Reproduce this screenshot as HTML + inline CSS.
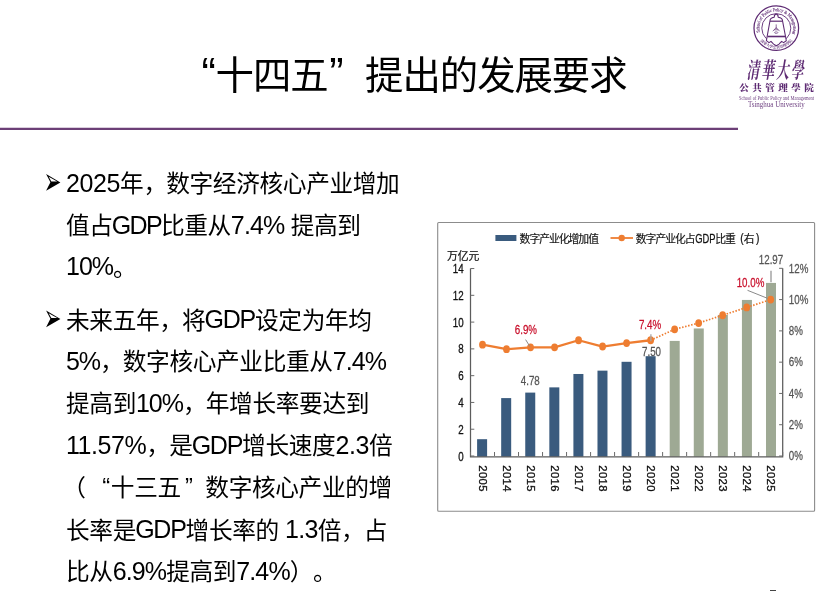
<!DOCTYPE html>
<html lang="zh-CN">
<head>
<meta charset="utf-8">
<title>“十四五”提出的发展要求</title>
<style>
html,body{margin:0;padding:0;background:#fff;}
body{width:832px;height:592px;overflow:hidden;position:relative;font-family:"Liberation Sans","Noto Sans CJK SC",sans-serif;color:#000;}
.title{position:absolute;left:178.3px;top:48.6px;height:54px;line-height:54px;font-size:38.4px;letter-spacing:-1.02px;white-space:nowrap;margin:0;font-weight:400;text-spacing-trim:space-all;}
.q{display:inline-block;width:23.33px;letter-spacing:0;}
.title .q{width:37.3px;font-size:43px;line-height:1px;}
.ln .ql{position:relative;left:-0.7px;top:-0.9px;}
.ln .qr{position:relative;left:4.3px;top:-0.9px;margin-right:1.2px;}
.pl{position:relative;left:-2px;}
.title .ql{position:relative;left:0.3px;top:-1.5px;}
.title .qr{position:relative;left:1.5px;top:-1.5px;}
.ql{text-align:right;}
.qr{text-align:left;}
.ln{text-spacing-trim:space-all;position:absolute;height:40px;line-height:40px;font-size:23.7px;letter-spacing:-0.37px;white-space:nowrap;}
.l{font-size:25.0px;letter-spacing:0;position:relative;top:-0.9px;}
.cm{letter-spacing:-0.9px;}
svg.art{position:absolute;left:0;top:0;}
svg text{font-family:"Liberation Sans","Noto Sans CJK SC",sans-serif;}
.al{font-size:12.2px;fill:#111;stroke:#111;stroke-width:.3px;}
.ar{font-size:12.2px;fill:#555;stroke:#555;stroke-width:.25px;}
.xl{font-size:10.3px;fill:#111;stroke:#111;stroke-width:.3px;letter-spacing:0.35px;}
.dl{font-size:12.2px;stroke-width:.25px;}
.lg{font-size:10.8px;letter-spacing:-1px;fill:#111;stroke:#111;stroke-width:.15px;}
.lgl{font-size:12px;fill:#111;stroke:#111;stroke-width:.25px;}
.unit{font-size:10.8px;fill:#111;stroke:#111;stroke-width:.2px;}
.seal{font-family:"Liberation Serif",serif;font-size:4.6px;fill:#5e2b73;stroke:#5e2b73;stroke-width:.12px;}
.sealc{font-family:"Liberation Serif","Noto Serif CJK SC",serif;font-size:3.7px;font-weight:700;fill:#5e2b73;}
svg text.lg1{font-family:"Liberation Serif","Noto Serif CJK SC",serif;font-size:16px;font-weight:700;letter-spacing:2.4px;fill:#5e2b73;}
svg text.lg2{font-family:"Liberation Serif","Noto Serif CJK SC",serif;font-size:9.6px;font-weight:900;fill:#5e2b73;letter-spacing:3.4px;}
svg text.lg3{font-family:"Liberation Serif",serif;font-size:5.4px;fill:#5e2b73;opacity:.9;}
svg text.lg4{font-family:"Liberation Serif",serif;font-size:8.1px;fill:#5e2b73;opacity:.9;}
.pg{position:absolute;left:770px;top:590px;width:6px;height:1.2px;background:#444;}
</style>
</head>
<body>
<h1 class="title"><span class="q ql">“</span>十四五<span class="q qr">”</span>提出的发展要求</h1>

<div class="ln" style="left:66px;top:163.4px"><span class="l" style="letter-spacing:-0.38px">2025</span>年<span class="cm">，</span>数字经济核心产业增加</div>
<div class="ln" style="left:66px;top:205.4px">值占<span class="l" style="letter-spacing:-1.71px;margin-left:-0.8px">GDP</span>比重从<span class="l" style="letter-spacing:-0.85px">7.4%</span> 提高到</div>
<div class="ln" style="left:66px;top:246.9px"><span class="l" style="letter-spacing:-1.00px">10%</span>。</div>
<div class="ln" style="left:66px;top:299.9px">未来五年<span class="cm">，</span>将<span class="l" style="letter-spacing:-1.26px;margin-left:-0.8px">GDP</span>设定为年均</div>
<div class="ln" style="left:66px;top:341.4px"><span class="l" style="letter-spacing:-1.08px">5%</span><span class="cm">，</span>数字核心产业比重从<span class="l" style="letter-spacing:-0.85px">7.4%</span></div>
<div class="ln" style="left:66px;top:383.4px">提高到<span class="l" style="letter-spacing:-1.00px">10%</span><span class="cm">，</span>年增长率要达到</div>
<div class="ln" style="left:66px;top:425.4px"><span class="l" style="letter-spacing:-0.43px">11.57%</span><span class="cm">，</span>是<span class="l" style="letter-spacing:-1.26px;margin-left:-0.8px">GDP</span>增长速度<span class="l" style="letter-spacing:-0.34px">2.3</span>倍</div>
<div class="ln" style="left:64.2px;top:467.8px"><span class="pl">（</span><span class="q ql">“</span>十三五<span class="q qr">”</span>数字核心产业的增</div>
<div class="ln" style="left:66px;top:509.8px">长率是<span class="l" style="letter-spacing:-1.26px;margin-left:-0.8px">GDP</span>增长率的 <span class="l" style="letter-spacing:-0.69px">1.3</span>倍<span class="cm">，</span>占</div>
<div class="ln" style="left:66px;top:551.4px">比从<span class="l" style="letter-spacing:-0.85px">6.9%</span>提高到<span class="l" style="letter-spacing:-0.85px">7.4%</span>）。</div>

<svg class="art" width="832" height="592" viewBox="0 0 832 592">
<rect x="0" y="127.75" width="738" height="2.25" fill="#6c3f77"/>
<path d="M46.1 174.10 L60.4 182.40 L46.1 190.70 L50.4 182.20 Z" fill="#000"/><path d="M48.7 176.70 L57.2 181.50 L51.3 181.50 Z" fill="#fff"/><path d="M46.1 310.60 L60.4 318.90 L46.1 327.20 L50.4 318.70 Z" fill="#000"/><path d="M48.7 313.20 L57.2 318.00 L51.3 318.00 Z" fill="#fff"/>
<rect x="437.7" y="222.5" width="376.9" height="288.8" rx="1" fill="#fff" stroke="#8c8c8c" stroke-width="1.1"/>
<rect x="477.10" y="439.19" width="10.0" height="17.61" fill="#3a5b7e"/>
<rect x="501.18" y="398.09" width="10.0" height="58.71" fill="#3a5b7e"/>
<rect x="525.25" y="392.60" width="10.0" height="64.20" fill="#3a5b7e"/>
<rect x="549.33" y="387.37" width="10.0" height="69.43" fill="#3a5b7e"/>
<rect x="573.40" y="373.98" width="10.0" height="82.82" fill="#3a5b7e"/>
<rect x="597.48" y="370.64" width="10.0" height="86.16" fill="#3a5b7e"/>
<rect x="621.55" y="361.80" width="10.0" height="95.00" fill="#3a5b7e"/>
<rect x="645.62" y="356.18" width="10.0" height="100.63" fill="#3a5b7e"/>
<rect x="669.70" y="340.91" width="10.0" height="115.89" fill="#9ea994"/>
<rect x="693.77" y="328.46" width="10.0" height="128.34" fill="#9ea994"/>
<rect x="717.85" y="314.93" width="10.0" height="141.87" fill="#9ea994"/>
<rect x="741.93" y="299.94" width="10.0" height="156.86" fill="#9ea994"/>
<rect x="766.00" y="282.93" width="10.0" height="173.87" fill="#9ea994"/>
<path d="M470.5 268.54 V456.95 H782.7 V268.32" fill="none" stroke="#5c5c5c" stroke-width="1.25"/>
<path d="M470.5 456.00 h3.8 M470.5 429.22 h3.8 M470.5 402.44 h3.8 M470.5 375.66 h3.8 M470.5 348.88 h3.8 M470.5 322.10 h3.8 M470.5 295.32 h3.8 M470.5 268.54 h3.8 M782.7 456.00 h-3.6 M782.7 424.72 h-3.6 M782.7 393.44 h-3.6 M782.7 362.16 h-3.6 M782.7 330.88 h-3.6 M782.7 299.60 h-3.6 M782.7 268.32 h-3.6 M470.50 456.0 v-4 M494.52 456.0 v-4 M518.53 456.0 v-4 M542.55 456.0 v-4 M566.56 456.0 v-4 M590.58 456.0 v-4 M614.59 456.0 v-4 M638.61 456.0 v-4 M662.62 456.0 v-4 M686.64 456.0 v-4 M710.65 456.0 v-4 M734.67 456.0 v-4 M758.68 456.0 v-4 M782.70 456.0 v-4 " fill="none" stroke="#6a6a6a" stroke-width="1"/>
<text transform="translate(463.60 460.60) scale(0.8 1)" class="al" text-anchor="end">0</text>
<text transform="translate(463.60 433.82) scale(0.8 1)" class="al" text-anchor="end">2</text>
<text transform="translate(463.60 407.04) scale(0.8 1)" class="al" text-anchor="end">4</text>
<text transform="translate(463.60 380.26) scale(0.8 1)" class="al" text-anchor="end">6</text>
<text transform="translate(463.60 353.48) scale(0.8 1)" class="al" text-anchor="end">8</text>
<text transform="translate(463.60 326.70) scale(0.8 1)" class="al" text-anchor="end">10</text>
<text transform="translate(463.60 299.92) scale(0.8 1)" class="al" text-anchor="end">12</text>
<text transform="translate(463.60 273.14) scale(0.8 1)" class="al" text-anchor="end">14</text>
<text transform="translate(788.80 460.30) scale(0.8 1)" class="ar">0%</text>
<text transform="translate(788.80 429.02) scale(0.8 1)" class="ar">2%</text>
<text transform="translate(788.80 397.74) scale(0.8 1)" class="ar">4%</text>
<text transform="translate(788.80 366.46) scale(0.8 1)" class="ar">6%</text>
<text transform="translate(788.80 335.18) scale(0.8 1)" class="ar">8%</text>
<text transform="translate(788.80 303.90) scale(0.8 1)" class="ar">10%</text>
<text transform="translate(788.80 272.62) scale(0.8 1)" class="ar">12%</text>
<text transform="translate(478.81 465.20) rotate(90) scale(1.1 1)" class="xl">2005</text>
<text transform="translate(502.82 465.20) rotate(90) scale(1.1 1)" class="xl">2014</text>
<text transform="translate(526.84 465.20) rotate(90) scale(1.1 1)" class="xl">2015</text>
<text transform="translate(550.85 465.20) rotate(90) scale(1.1 1)" class="xl">2016</text>
<text transform="translate(574.87 465.20) rotate(90) scale(1.1 1)" class="xl">2017</text>
<text transform="translate(598.88 465.20) rotate(90) scale(1.1 1)" class="xl">2018</text>
<text transform="translate(622.90 465.20) rotate(90) scale(1.1 1)" class="xl">2019</text>
<text transform="translate(646.92 465.20) rotate(90) scale(1.1 1)" class="xl">2020</text>
<text transform="translate(670.93 465.20) rotate(90) scale(1.1 1)" class="xl">2021</text>
<text transform="translate(694.95 465.20) rotate(90) scale(1.1 1)" class="xl">2022</text>
<text transform="translate(718.96 465.20) rotate(90) scale(1.1 1)" class="xl">2023</text>
<text transform="translate(742.98 465.20) rotate(90) scale(1.1 1)" class="xl">2024</text>
<text transform="translate(766.99 465.20) rotate(90) scale(1.1 1)" class="xl">2025</text>
<polyline points="482.51,344.64 506.52,349.18 530.54,347.30 554.55,347.30 578.57,340.26 602.58,346.52 626.60,343.08 650.62,340.26" fill="none" stroke="#ee7d31" stroke-width="2.3" stroke-linejoin="round"/>
<polyline points="650.62,340.26 674.63,329.32 698.65,323.06 722.66,315.24 746.68,307.42 770.69,299.60" fill="none" stroke="#ee7d31" stroke-width="1.7" stroke-dasharray="1.5 1.6"/>
<ellipse cx="482.51" cy="344.64" rx="3.4" ry="3.9" fill="#ee7d31"/>
<ellipse cx="506.52" cy="349.18" rx="3.4" ry="3.9" fill="#ee7d31"/>
<ellipse cx="530.54" cy="347.30" rx="3.4" ry="3.9" fill="#ee7d31"/>
<ellipse cx="554.55" cy="347.30" rx="3.4" ry="3.9" fill="#ee7d31"/>
<ellipse cx="578.57" cy="340.26" rx="3.4" ry="3.9" fill="#ee7d31"/>
<ellipse cx="602.58" cy="346.52" rx="3.4" ry="3.9" fill="#ee7d31"/>
<ellipse cx="626.60" cy="343.08" rx="3.4" ry="3.9" fill="#ee7d31"/>
<ellipse cx="650.62" cy="340.26" rx="3.4" ry="3.9" fill="#ee7d31"/>
<ellipse cx="674.63" cy="329.32" rx="3.4" ry="3.9" fill="#ee7d31"/>
<ellipse cx="698.65" cy="323.06" rx="3.4" ry="3.9" fill="#ee7d31"/>
<ellipse cx="722.66" cy="315.24" rx="3.4" ry="3.9" fill="#ee7d31"/>
<ellipse cx="746.68" cy="307.42" rx="3.4" ry="3.9" fill="#ee7d31"/>
<ellipse cx="770.69" cy="299.60" rx="3.4" ry="3.9" fill="#ee7d31"/>
<path d="M525.6 339.6 L529.9 346.5 M747.5 290.3 L767.7 298.4" fill="none" stroke="#8a8a8a" stroke-width="1"/>
<path d="M650.9 334.2 V341.2" fill="none" stroke="#a8a8a8" stroke-width="1.3"/>
<path d="M771.0 270.8 V282.3" fill="none" stroke="#b4b4b4" stroke-width="1.8"/>
<text transform="translate(525.90 334.20) scale(0.8 1)" class="dl" text-anchor="middle" fill="#c9102c" stroke="#c9102c">6.9%</text>
<text transform="translate(650.00 329.20) scale(0.8 1)" class="dl" text-anchor="middle" fill="#c9102c" stroke="#c9102c">7.4%</text>
<text transform="translate(750.50 286.80) scale(0.8 1)" class="dl" text-anchor="middle" fill="#c9102c" stroke="#c9102c">10.0%</text>
<text transform="translate(771.00 264.00) scale(0.8 1)" class="dl" text-anchor="middle" fill="#555" stroke="#555">12.97</text>
<text transform="translate(651.50 356.20) scale(0.8 1)" class="dl" text-anchor="middle" fill="#555" stroke="#555">7.50</text>
<text transform="translate(530.30 384.80) scale(0.8 1)" class="dl" text-anchor="middle" fill="#555" stroke="#555">4.78</text>
<rect x="495.4" y="235" width="21" height="6" fill="#3a5b7e"/>
<text x="519.6" y="242.7" class="lg">数字产业化增加值</text>
<path d="M610.5 238 H633" stroke="#ee7d31" stroke-width="1.8"/><circle cx="621.7" cy="238" r="3.2" fill="#ee7d31"/>
<text x="635.8" y="242.7" class="lg">数字产业化占</text>
<text transform="translate(695.30 242.60) scale(0.78 1)" class="lgl">GDP</text>
<text x="715.2" y="242.7" class="lg">比重</text>
<text transform="translate(740.20 242.40) scale(0.85 1)" class="lgl">(</text>
<text x="743.8" y="242.7" class="lg">右</text>
<text transform="translate(755.90 242.40) scale(0.85 1)" class="lgl">)</text>
<text x="447" y="260" class="unit">万亿元</text>

<g fill="none" stroke="#5e2b73">
<circle cx="776.3" cy="28.15" r="22.3" stroke-width="1.25"/>
<circle cx="776.3" cy="28.15" r="14.5" stroke-width="0.9"/>
<path d="M774.2 17.2 Q774.2 14.1 776.2 14.1 Q778.2 14.1 778.2 17.2 Q781.6 17.6 782.3 19.6 L786.3 40.7 L783.6 42.6 L781.6 41.4 L779 44.1 L776.3 45.7 L773.6 44.1 L771 41.4 L769 42.6 L766.4 40.7 L770.2 19.6 Q770.9 17.6 774.2 17.2 Z" stroke-width="1.05" fill="#fff" stroke-linejoin="round"/>
<path d="M770 21.2 H782.6" stroke-width="1.2"/>
<path d="M767.5 36.5 H785.2" stroke-width="1.6"/>
<path d="M776.2 24.4 V29 M776.2 27.6 L772.8 31.2 M776.2 27.6 L779.6 31.2 M774.2 29.8 H778.2" stroke-width="0.7"/>
<ellipse cx="776.2" cy="32.6" rx="1.7" ry="0.8" stroke-width="0.6"/>
</g>
<path id="arcT" d="M759.90 32.24 A16.9 16.9 0 1 1 792.18 33.93" fill="none"/>
<text class="seal" textLength="62.5" lengthAdjust="spacingAndGlyphs"><textPath href="#arcT" startOffset="0" textLength="62.5" lengthAdjust="spacingAndGlyphs">School of Public Policy &amp; Management</textPath></text>
<path id="arcB" d="M758.63 38.35 A20.4 20.4 0 0 0 793.97 38.35" fill="none"/>
<text class="sealc"><textPath href="#arcB" startOffset="50%" text-anchor="middle">清華大學公共管理學院</textPath></text>
<text transform="translate(746.6 78.2) skewX(-9) scale(0.8 1.38)" class="lg1">清華大學</text>
<text x="739.3" y="91.2" class="lg2">公共管理學院</text>
<text x="739" y="100.0" class="lg3" textLength="75" lengthAdjust="spacingAndGlyphs">School of Public Policy and Management</text>
<text x="747.9" y="107.3" class="lg4" textLength="56.8" lengthAdjust="spacingAndGlyphs">Tsinghua University</text>

</svg>
<div class="pg"></div>
</body>
</html>
